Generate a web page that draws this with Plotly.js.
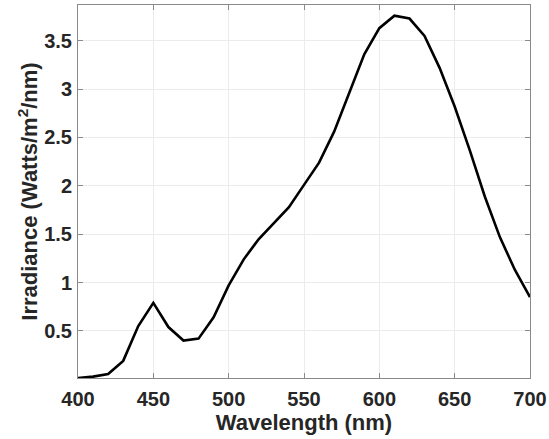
<!DOCTYPE html>
<html>
<head>
<meta charset="utf-8">
<script src="https://cdn.plot.ly/plotly-3.0.1.min.js"></script>
<style>html,body{margin:0;padding:0;background:#fff;}#chart{width:549px;height:439px;}</style>
</head>
<body>
<div id="chart"></div>
<script>
const wavelength = [400,410,420,430,440,450,460,470,480,490,500,510,520,530,540,550,560,570,580,590,600,610,620,630,640,650,660,670,680,690,700];
const irradiance = [0.013,0.027,0.055,0.19,0.55,0.79,0.54,0.40,0.42,0.64,0.97,1.24,1.45,1.61,1.78,2.01,2.24,2.56,2.96,3.36,3.63,3.76,3.73,3.55,3.22,2.82,2.37,1.89,1.47,1.13,0.85];
const xTicks = [400,450,500,550,600,650,700];
const yTicks = [0.5,1,1.5,2,2.5,3,3.5];
const yTickText = ['0.5','1','1.5','2','2.5','3','3.5'];

const fontFam = '"Liberation Sans", Arial, Helvetica, sans-serif';
const trace = {
  x: wavelength, y: irradiance, type: 'scatter', mode: 'lines',
  line: {color: '#000000', width: 2.6}, hoverinfo: 'skip'
};
const axisCommon = {
  showline: true, linecolor: '#8a8a8a', linewidth: 1, mirror: 'ticks',
  ticks: 'inside', ticklen: 5, tickcolor: '#8a8a8a', tickwidth: 1,
  showgrid: true, gridcolor: '#ececec', gridwidth: 1, zeroline: false,
  tickfont: {family: fontFam, size: 20, color: '#262626', weight: 'bold'}
};
const layout = {
  width: 549, height: 439,
  margin: {l: 78, r: 19, t: 5, b: 61},
  paper_bgcolor: '#ffffff', plot_bgcolor: '#ffffff',
  showlegend: false,
  xaxis: Object.assign({}, axisCommon, {
    range: [400, 700], tickvals: xTicks, ticktext: xTicks.map(String),
    ticklabelstandoff: 3,
    title: {text: 'Wavelength (nm)', font: {family: fontFam, size: 22, color: '#262626', weight: 'bold'}, standoff: 3}
  }),
  yaxis: Object.assign({}, axisCommon, {
    range: [0.013, 3.87], tickvals: yTicks, ticktext: yTickText,
    ticklabelstandoff: 1,
    title: {text: 'Irradiance (Watts/m<sup>2</sup>/nm)', font: {family: fontFam, size: 22, color: '#262626', weight: 'bold'}, standoff: 0}
  })
};
Plotly.newPlot('chart', [trace], layout, {displayModeBar: false, staticPlot: true});
</script>
</body>
</html>
